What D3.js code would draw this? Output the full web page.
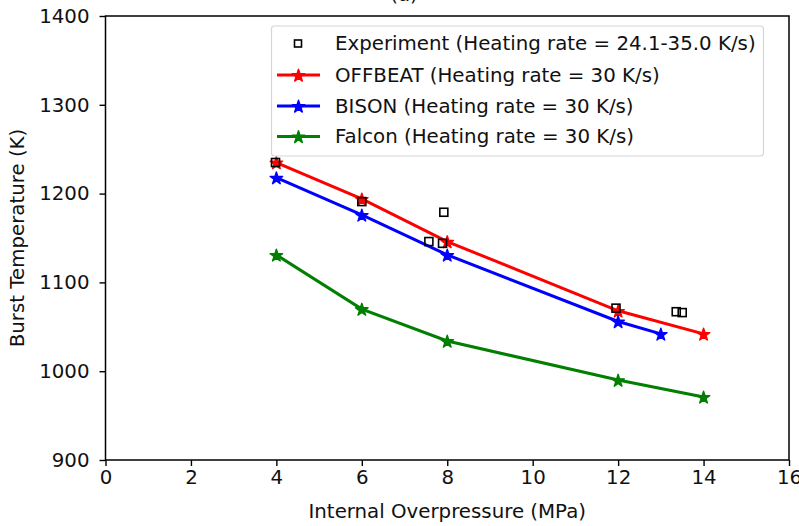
<!DOCTYPE html>
<html>
<head>
<meta charset="utf-8">
<script src="https://cdn.jsdelivr.net/npm/d3@7/dist/d3.min.js"></script>
<style>
  html, body { margin: 0; padding: 0; background: #fff; }
  svg { display: block; font-family: "DejaVu Sans", sans-serif; }
</style>
</head>
<body>
<svg id="chart" width="799" height="526"></svg>
<script>
// Burst temperature versus internal overpressure
const expPressure = [3.98, 6.0, 7.57, 7.89, 7.92, 11.95, 13.36, 13.5];
const expTemp     = [1235, 1191, 1146, 1144, 1179, 1071, 1067, 1066];

const offbeatPressure = [4, 6, 8, 12, 14];
const offbeatTemp     = [1235, 1194, 1146, 1068, 1042];

const bisonPressure = [4, 6, 8, 12, 13];
const bisonTemp     = [1218, 1176, 1131, 1056, 1042];

const falconPressure = [4, 6, 8, 12, 14];
const falconTemp     = [1131, 1070, 1034, 990, 971];

const xTicks = [0, 2, 4, 6, 8, 10, 12, 14, 16];
const yTicks = [900, 1000, 1100, 1200, 1300, 1400];

const legendLabels = [
  "Experiment (Heating rate = 24.1-35.0 K/s)",
  "OFFBEAT (Heating rate = 30 K/s)",
  "BISON (Heating rate = 30 K/s)",
  "Falcon (Heating rate = 30 K/s)"
];

const margin = { left: 105.5, right: 10, top: 16, bottom: 66 };
const W = 799, H = 526;
const svg = d3.select("#chart");

const x = d3.scaleLinear().domain([0, 16]).range([margin.left, W - margin.right]);
const y = d3.scaleLinear().domain([900, 1400]).range([H - margin.bottom, margin.top]);

const fontSize = 19.8;

// panel title, sitting above the top of the page
svg.append("text").attr("x", 404).attr("y", 0.5).attr("text-anchor", "middle")
  .attr("font-size", fontSize).attr("fill", "#111").text("(a)");

const series = [
  { px: offbeatPressure, t: offbeatTemp, color: "#ff0000" },
  { px: bisonPressure, t: bisonTemp, color: "#0000ff" },
  { px: falconPressure, t: falconTemp, color: "#007f00" }
];

const star = d3.symbol().type(d3.symbolStar).size(48);
const line = d3.line().x(d => x(d[0])).y(d => y(d[1]));

const plot = svg.append("g");

series.forEach(s => {
  const pts = s.px.map((p, i) => [p, s.t[i]]);
  plot.append("path").datum(pts).attr("d", line)
    .attr("fill", "none").attr("stroke", s.color).attr("stroke-width", 3);
  plot.selectAll(null).data(pts).enter().append("path")
    .attr("d", star)
    .attr("transform", d => `translate(${x(d[0])},${y(d[1]) + 0.8})`)
    .attr("fill", s.color).attr("stroke", s.color).attr("stroke-width", 1.4)
    .attr("stroke-linejoin", "round");
});

// experimental points drawn on top
plot.selectAll(".exp").data(expPressure.map((p, i) => [p, expTemp[i]])).enter()
  .append("rect").attr("class", "exp")
  .attr("x", d => x(d[0]) - 4).attr("y", d => y(d[1]) - 4)
  .attr("width", 8).attr("height", 8)
  .attr("fill", "none").attr("stroke", "#000").attr("stroke-width", 1.6);

// axes
const xAxis = d3.axisBottom(x).tickValues(xTicks).tickFormat(d3.format("d")).tickSizeOuter(0).tickSize(6).tickPadding(9);
const yAxis = d3.axisLeft(y).tickValues(yTicks).tickFormat(d3.format("d")).tickSizeOuter(0).tickSize(6).tickPadding(10);

const gx = svg.append("g").attr("transform", `translate(0,${H - margin.bottom})`).call(xAxis);
const gy = svg.append("g").attr("transform", `translate(${margin.left},0)`).call(yAxis);
[gx, gy].forEach(g => {
  g.select(".domain").remove();
  g.selectAll(".tick line").attr("stroke", "#000").attr("stroke-width", 1.4);
  g.selectAll(".tick text").attr("font-size", fontSize).attr("fill", "#111")
    .attr("font-family", "DejaVu Sans, sans-serif");
});
gx.selectAll(".tick text").attr("dy", "0.71em").attr("y", 10);

// frame
svg.append("rect").attr("x", margin.left).attr("y", margin.top)
  .attr("width", W - margin.right - margin.left).attr("height", H - margin.bottom - margin.top)
  .attr("fill", "none").attr("stroke", "#000").attr("stroke-width", 1.5);

// axis titles
svg.append("text").attr("x", (margin.left + W - margin.right) / 2).attr("y", 518)
  .attr("text-anchor", "middle").attr("font-size", fontSize).attr("fill", "#111")
  .text("Internal Overpressure (MPa)");
svg.append("text").attr("transform", `translate(24,${(margin.top + H - margin.bottom) / 2}) rotate(-90)`)
  .attr("text-anchor", "middle").attr("font-size", fontSize).attr("fill", "#111")
  .text("Burst Temperature (K)");

// legend
const lg = svg.append("g");
lg.append("rect").attr("x", 271.5).attr("y", 26).attr("width", 492).attr("height", 130)
  .attr("rx", 3).attr("fill", "#fff").attr("fill-opacity", 0.85)
  .attr("stroke", "#d6d6d6").attr("stroke-width", 1.2);
const rowY = [43.5, 75, 106, 136.5];
legendLabels.forEach((lab, i) => {
  const cy = rowY[i];
  if (i === 0) {
    lg.append("rect").attr("x", 294.5).attr("y", cy - 3.5).attr("width", 7).attr("height", 7)
      .attr("fill", "none").attr("stroke", "#000").attr("stroke-width", 1.6);
  } else {
    const c = series[i - 1].color;
    lg.append("line").attr("x1", 277).attr("x2", 320).attr("y1", cy).attr("y2", cy)
      .attr("stroke", c).attr("stroke-width", 3);
    lg.append("path").attr("d", star).attr("transform", `translate(298.5,${cy + 0.8})`)
      .attr("fill", c).attr("stroke", c).attr("stroke-width", 1.4).attr("stroke-linejoin", "round");
  }
  lg.append("text").attr("x", 335).attr("y", cy).attr("dy", "0.35em")
    .attr("font-size", fontSize).attr("fill", "#111").text(lab);
});
</script>
</body>
</html>
